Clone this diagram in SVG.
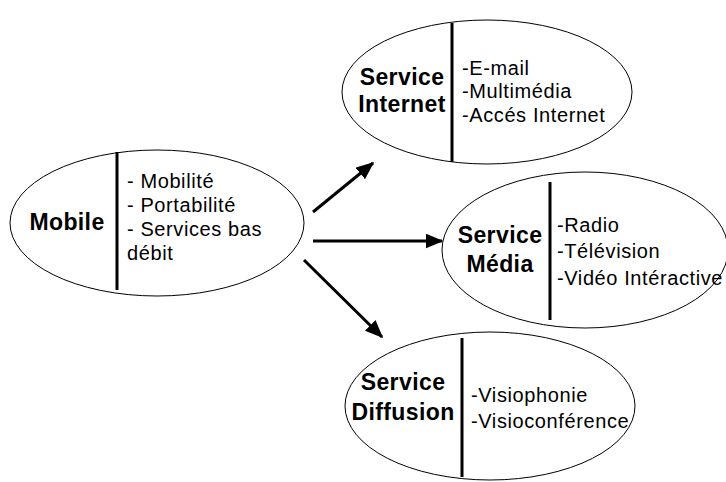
<svg xmlns="http://www.w3.org/2000/svg" width="726" height="482" viewBox="0 0 726 482">
<defs>
<marker id="ah" markerWidth="6" markerHeight="5" refX="5.5" refY="2.5" orient="auto" markerUnits="strokeWidth">
<path d="M0,0 L6,2.5 L0,5 Z" fill="#000"/>
</marker>
<style>
.el{fill:#fff;stroke:#000;stroke-width:1}
.vl{stroke:#000;stroke-width:3}
.t{font-family:"Liberation Sans",Arial,sans-serif;font-size:20px;letter-spacing:0.6px;fill:#000}
.b{font-family:"Liberation Sans",Arial,sans-serif;font-size:23px;font-weight:bold;letter-spacing:0.4px;fill:#000;text-anchor:middle}
.ar{stroke:#000;stroke-width:3;fill:none;marker-end:url(#ah)}
</style>
</defs>
<rect width="726" height="482" fill="#fff"/>
<g id="connectors">
<line class="ar" x1="313" y1="212" x2="373" y2="163"/>
<line class="ar" x1="313" y1="241" x2="442" y2="241"/>
<line class="ar" x1="304" y1="260" x2="382" y2="337"/>
</g>
<g id="mobile">
<ellipse class="el" cx="157" cy="223" rx="147" ry="73"/>
<line class="vl" x1="117" y1="152" x2="117" y2="290"/>
<text class="b" x="67" y="230">Mobile</text>
<text class="t" x="127" y="188">- Mobilité</text>
<text class="t" x="127" y="212">- Portabilité</text>
<text class="t" x="127" y="236">- Services bas</text>
<text class="t" x="127" y="260">débit</text>
</g>
<g id="internet">
<ellipse class="el" cx="487" cy="92" rx="145" ry="72"/>
<line class="vl" x1="452" y1="23" x2="452" y2="162"/>
<text class="b" x="402" y="85">Service</text>
<text class="b" x="402" y="112">Internet</text>
<text class="t" x="462" y="75">-E-mail</text>
<text class="t" x="462" y="98">-Multimédia</text>
<text class="t" x="462" y="122">-Accés Internet</text>
</g>
<g id="media">
<ellipse class="el" cx="585" cy="250" rx="143" ry="78"/>
<line class="vl" x1="550" y1="182" x2="550" y2="320"/>
<text class="b" x="500" y="243">Service</text>
<text class="b" x="500" y="272">Média</text>
<text class="t" x="557" y="232">-Radio</text>
<text class="t" x="557" y="258">-Télévision</text>
<text class="t" x="557" y="285">-Vidéo Intéractive</text>
</g>
<g id="diffusion">
<ellipse class="el" cx="490" cy="406" rx="145" ry="74"/>
<line class="vl" x1="462" y1="338" x2="462" y2="477"/>
<text class="b" x="403" y="390">Service</text>
<text class="b" x="403" y="420">Diffusion</text>
<text class="t" x="471" y="402">-Visiophonie</text>
<text class="t" x="471" y="428">-Visioconférence</text>
</g>
</svg>
